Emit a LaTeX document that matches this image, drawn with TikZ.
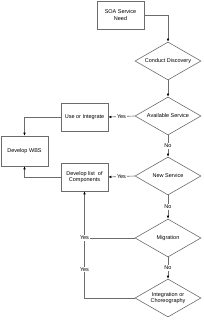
\documentclass[tikz,border=0pt]{standalone}
\usepackage{fontspec}
\setmainfont{Liberation Sans}
\usetikzlibrary{shapes.geometric,arrows.meta}
\begin{document}
\begin{tikzpicture}[x=1pt,y=1pt,
  every node/.style={font=\fontsize{5.5}{6.5}\selectfont, text=black},
  procbox/.style={draw=gray!85!black, line width=0.6pt, minimum width=47pt, minimum height=28pt, inner sep=0pt, align=center},
  decis/.style={draw=gray!85!black, line width=0.6pt, diamond, shape aspect=1.74, minimum width=66pt, minimum height=38pt, inner sep=0pt, align=center},
  arr/.style={draw=gray!85!black, line width=0.6pt, -{Latex[length=3pt,width=2.6pt,black]}},
  ln/.style={draw=gray!85!black, line width=0.6pt},
  lbl/.style={fill=white, inner sep=0.6pt}]
\useasboundingbox (0,0) rectangle (203,-320);
\node[procbox] (soa) at (120.5,-15) {SOA Service\\Need};
\node[decis] (d1) at (168,-61) {Conduct Discovery};
\node[decis] (d2) at (168,-116) {Available Service};
\node[decis] (d3) at (168,-176) {New Service};
\node[decis] (d4) at (168,-238) {Migration};
\node[decis] (d5) at (168,-298) {Integration or\\Choreography};
\node[procbox] (use) at (84.5,-117) {Use or Integrate};
\node[procbox, minimum height=30pt] (wbs) at (24.5,-151) {Develop WBS};
\node[procbox] (dev) at (84.5,-177) {Develop list \ of\\Components};
\draw[arr] (soa.east) -| (d1.north);
\draw[arr] (d1.south) -- (d2.north);
\draw[arr] (d2.west) -- node[lbl]{Yes} (use.east);
\draw[arr] (d2.south) -- node[lbl]{No} (d3.north);
\draw[arr] (d3.west) -- node[lbl]{Yes} (dev.east);
\draw[arr] (d3.south) -- node[lbl]{No} (d4.north);
\draw[arr] (d4.south) -- node[lbl]{No} (d5.north);
\draw[arr] (use.west) -| (wbs.north);
\draw[arr] (dev.west) -| (wbs.south);
\draw[arr] (d5.west) -| node[lbl, pos=0.635]{Yes} (dev.south);
\draw[ln] (d4.west) -- (dev.south |- d4.west) node[lbl]{Yes};
\end{tikzpicture}
\end{document}
